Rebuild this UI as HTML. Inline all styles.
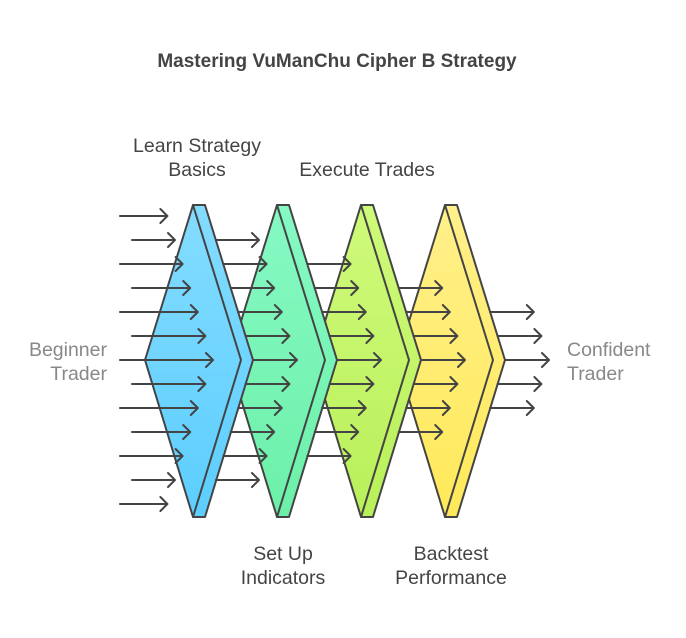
<!DOCTYPE html>
<html><head><meta charset="utf-8"><style>
html,body{margin:0;padding:0;background:#fff;width:686px;height:638px;overflow:hidden}
svg{display:block}
text{font-family:"Liberation Sans",Arial,sans-serif}
</style></head><body>
<svg id="s" width="686" height="638" viewBox="0 0 686 638" xmlns="http://www.w3.org/2000/svg">
<defs>
<linearGradient id="g1" x1="0" y1="0" x2="0" y2="1"><stop offset="0" stop-color="#84dcff"/><stop offset="1" stop-color="#5cceff"/></linearGradient>
<linearGradient id="g2" x1="0" y1="0" x2="0" y2="1"><stop offset="0" stop-color="#86f9c4"/><stop offset="1" stop-color="#6cf0a8"/></linearGradient>
<linearGradient id="g3" x1="0" y1="0" x2="0" y2="1"><stop offset="0" stop-color="#cffa7a"/><stop offset="1" stop-color="#b9f05a"/></linearGradient>
<linearGradient id="g4" x1="0" y1="0" x2="0" y2="1"><stop offset="0" stop-color="#fff08a"/><stop offset="1" stop-color="#ffe95a"/></linearGradient>
</defs>
<text x="337" y="67" text-anchor="middle" font-size="19" font-weight="bold" fill="#444">Mastering VuManChu Cipher B Strategy</text>
<g id="prisms"></g>
<g id="arrows" stroke="#444" stroke-width="2" fill="none" stroke-linecap="round" stroke-linejoin="round"></g>
<g font-size="19.5" text-anchor="middle">
<text x="197" y="152" fill="#444">Learn Strategy</text>
<text x="197" y="176" fill="#444">Basics</text>
<text x="367" y="176" fill="#444">Execute Trades</text>
<text x="283" y="560" fill="#444">Set Up</text>
<text x="283" y="584" fill="#444">Indicators</text>
<text x="451" y="560" fill="#444">Backtest</text>
<text x="451" y="584" fill="#444">Performance</text>
<text x="107" y="356" fill="#888" text-anchor="end">Beginner</text>
<text x="107" y="380" fill="#888" text-anchor="end">Trader</text>
<text x="567" y="356" fill="#888" text-anchor="start">Confident</text>
<text x="567" y="380" fill="#888" text-anchor="start">Trader</text>
</g>
</svg>
<script>
var NS="http://www.w3.org/2000/svg";
var P=document.getElementById("prisms"),A=document.getElementById("arrows");
function el(t,a,p){var e=document.createElementNS(NS,t);for(var k in a)e.setAttribute(k,a[k]);p.appendChild(e);return e;}
var cols=["url(#g1)","url(#g2)","url(#g3)","url(#g4)"];
for(var k=3;k>=0;k--){
 var o=84*k;
 el("polygon",{points:(193+o)+",205 "+(205+o)+",205 "+(253+o)+",360 "+(205+o)+",517 "+(193+o)+",517",fill:cols[k],stroke:"#444","stroke-width":2,"stroke-linejoin":"round"},P);
 el("polygon",{points:(193+o)+",205 "+(241+o)+",360 "+(193+o)+",517 "+(145+o)+",360",fill:cols[k],stroke:"#444","stroke-width":2,"stroke-linejoin":"round"},P);
}
function tip(y){return 213-7.6*Math.abs(y-360)/24;}
function back(y,k){return 205+48*(1-Math.abs(y-360)/155)+84*k;}
var counts=[13,11,9,7,5];
for(var c=0;c<5;c++){
 var n=counts[c];
 for(var i=0;i<n;i++){
  var y=360+(i-(n-1)/2)*24;
  var row=Math.round((y-217)/24);
  var x2=tip(y)+84*c;
  var x1=c==0?(row%2==0?120:132):back(y,c-1);
  el("path",{d:"M"+x1+" "+y+"H"+x2+"M"+(x2-7)+" "+(y-7)+"L"+x2+" "+y+"L"+(x2-7)+" "+(y+7)},A);
 }
}
</script>
</body></html>
